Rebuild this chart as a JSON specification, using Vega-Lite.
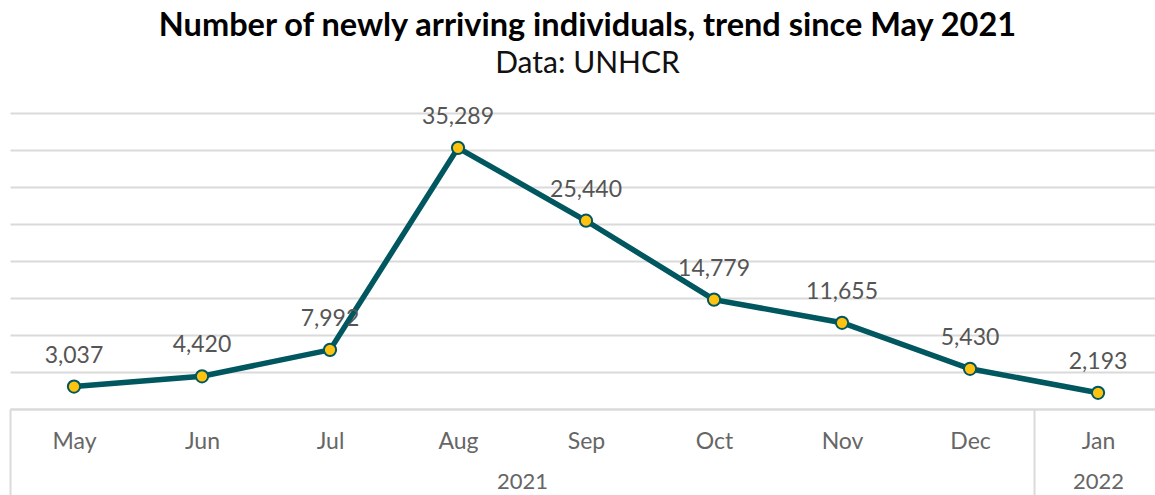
{
  "$schema": "https://vega.github.io/schema/vega-lite/v6.json",
  "width": 1145,
  "height": 296,
  "autosize": {"type": "none"},
  "padding": {"left": 10, "top": 113, "right": 0, "bottom": 86},
  "background": "white",
  "title": {
    "text": "Number of newly arriving individuals, trend since May 2021",
    "subtitle": "Data: UNHCR",
    "anchor": "middle",
    "dx": 5,
    "font": "Lato",
    "fontSize": 32.5,
    "fontWeight": "bold",
    "color": "#000000",
    "subtitleFont": "Lato",
    "subtitleFontSize": 30,
    "subtitleColor": "#111111",
    "subtitlePadding": 6,
    "offset": 27
  },
  "config": {"view": {"stroke": null}},
  "data": {
    "values": [
      {"month": "May", "idx": 0, "value": 3037},
      {"month": "Jun", "idx": 1, "value": 4420},
      {"month": "Jul", "idx": 2, "value": 7992},
      {"month": "Aug", "idx": 3, "value": 35289},
      {"month": "Sep", "idx": 4, "value": 25440},
      {"month": "Oct", "idx": 5, "value": 14779},
      {"month": "Nov", "idx": 6, "value": 11655},
      {"month": "Dec", "idx": 7, "value": 5430},
      {"month": "Jan", "idx": 8, "value": 2193}
    ]
  },
  "encoding": {
    "y": {
      "field": "value",
      "type": "quantitative",
      "scale": {"domain": [0, 40000], "nice": false},
      "axis": {
        "values": [0, 5000, 10000, 15000, 20000, 25000, 30000, 35000, 40000],
        "grid": true,
        "gridColor": "#dadada",
        "gridWidth": 2,
        "labels": false,
        "ticks": false,
        "domain": false,
        "title": null
      }
    }
  },
  "layer": [
    {
      "mark": {"type": "line", "color": "#00575f", "strokeWidth": 5.5},
      "encoding": {
        "x": {
          "field": "idx",
          "type": "quantitative",
          "scale": {"domain": [-0.5, 8.445], "nice": false, "zero": false},
          "axis": {
            "orient": "bottom",
            "values": [0, 1, 2, 3, 4, 5, 6, 7, 8],
            "labelExpr": "['May','Jun','Jul','Aug','Sep','Oct','Nov','Dec','Jan'][datum.value]",
            "ticks": false,
            "labelPadding": 21,
            "labelFontSize": 23,
            "labelFont": "Lato",
            "labelColor": "#666666",
            "domain": true,
            "domainColor": "#dadada",
            "domainWidth": 2,
            "grid": false,
            "title": null,
            "labelFlush": false,
            "labelOverlap": false
          }
        }
      }
    },
    {
      "mark": {"type": "point", "filled": true, "fill": "#ffc20e", "stroke": "#00575f", "strokeWidth": 2, "size": 150, "opacity": 1},
      "encoding": {
        "x": {"field": "idx", "type": "quantitative", "axis": null}
      }
    },
    {
      "mark": {"type": "text", "dy": -31, "fontSize": 23, "font": "Lato", "color": "#555555"},
      "encoding": {
        "text": {"field": "value", "type": "quantitative", "format": ","},
        "x": {
          "field": "idx",
          "type": "quantitative",
          "axis": {
            "orient": "bottom",
            "values": [-0.5, 3.5, 7.5, 8],
            "labelExpr": "datum.value == 3.5 ? '2021' : datum.value == 8 ? '2022' : ''",
            "ticks": true,
            "tickSize": 86,
            "tickColor": "#dadada",
            "tickWidth": 2,
            "tickOpacity": {"condition": {"test": "datum.value == 3.5 || datum.value == 8", "value": 0}, "value": 1},
            "labelPadding": -24,
            "labelFontSize": 22,
            "labelFont": "Lato",
            "labelColor": "#666666",
            "domain": false,
            "grid": false,
            "title": null,
            "labelFlush": false,
            "labelOverlap": false
          }
        }
      }
    }
  ],
  "resolve": {"axis": {"x": "independent"}}
}
